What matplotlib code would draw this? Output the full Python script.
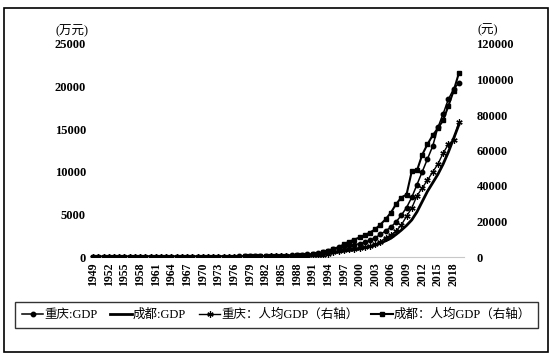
import numpy as np
import matplotlib
matplotlib.use("Agg")
import matplotlib.pyplot as plt
from matplotlib.patches import Rectangle

plt.rcParams['font.family'] = ['Liberation Serif', 'Noto Sans CJK SC', 'DejaVu Sans']

years = list(range(1949, 2020))

# 重庆:GDP (left axis)
cq_gdp = [13, 15, 18, 22, 25, 27, 29, 32, 34, 41,
          46, 46, 34, 31, 33, 36, 40, 44, 41, 38,
          42, 48, 51, 52, 55, 54, 58, 56, 62, 67,
          75, 83, 90, 100, 112, 130, 151, 170, 195, 240,
          275, 300, 350, 430, 560, 760, 980, 1150, 1300, 1380,
          1450, 1560, 1720, 1950, 2250, 2650, 3070, 3500, 4120, 4900,
          5800, 7000, 8500, 10000, 11500, 13000, 15200, 16800, 18500, 19700,
          20400]

# 成都:GDP (left axis)
cd_gdp = [5, 6, 7, 8, 9, 10, 10, 12, 13, 16,
          18, 18, 13, 12, 13, 14, 15, 17, 15, 14,
          16, 19, 21, 22, 23, 23, 26, 26, 30, 36,
          40, 45, 49, 55, 62, 73, 86, 95, 110, 135,
          150, 155, 180, 220, 290, 390, 480, 580, 680, 770,
          850, 950, 1070, 1200, 1380, 1620, 1900, 2200, 2650, 3150,
          3700, 4350, 5300, 6500, 7700, 8700, 9700, 10900, 12300, 13900,
          15500]

# 重庆：人均GDP (right axis)
cq_pc = [55, 62, 72, 85, 95, 100, 105, 115, 120, 140,
         155, 155, 118, 108, 112, 120, 130, 140, 128, 118,
         126, 140, 146, 146, 152, 148, 157, 150, 165, 180,
         205, 230, 250, 275, 305, 350, 410, 450, 510, 620,
         700, 760, 870, 1050, 1360, 1830, 2700, 3300, 3900, 4350,
         4700, 5200, 5650, 6350, 7200, 8540, 10980, 12320, 14660, 18030,
         22920, 27600, 34500, 38910, 43220, 47850, 52320, 58500, 63440, 65930,
         75830]

# 成都：人均GDP (right axis)
cd_pc = [70, 78, 88, 100, 110, 118, 122, 135, 142, 170,
         185, 182, 135, 125, 132, 140, 152, 165, 150, 138,
         148, 168, 178, 182, 188, 185, 205, 200, 225, 290,
         320, 350, 380, 420, 470, 540, 640, 720, 830, 1000,
         1150, 1300, 1550, 1950, 2600, 3500, 4300, 5200, 7300, 8600,
         9800, 11000, 12300, 13800, 15600, 18300, 21300, 25000, 29800, 33500,
         35200, 48300, 48750, 57600, 63500, 68500, 72500, 77000, 85000, 93500,
         103400]

xticks = list(range(1949, 2020, 3))

fig = plt.figure(figsize=(5.56, 3.57), dpi=100)
ax = fig.add_axes([90/556, 1 - 257/357, (464-90)/556, (257-44)/357])
ax2 = ax.twinx()

l1, = ax.plot(years, cq_gdp, color='black', lw=1.1, marker='o', ms=3.2)
l2, = ax.plot(years, cd_gdp, color='black', lw=2.0)
l3, = ax2.plot(years, cq_pc, color='black', lw=1.0, marker=(6, 2, 0), ms=4.5, mew=0.9)
l4, = ax2.plot(years, cd_pc, color='black', lw=1.5, marker='s', ms=3.2)

ax.set_xlim(1948.4, 2020)
ax.set_ylim(0, 25000)
ax2.set_ylim(0, 120000)
ax.set_yticks(range(0, 25001, 5000))
ax2.set_yticks(range(0, 120001, 20000))
ax.set_xticks(xticks)
ax.set_xticklabels([str(y) for y in xticks], rotation=90, fontsize=8.5, fontweight='bold')

for a in (ax, ax2):
    for s in a.spines.values():
        s.set_visible(False)
    a.tick_params(length=0)
ax.spines['bottom'].set_visible(True)
ax.spines['bottom'].set_color('#c8c8c8')
ax.tick_params(axis='y', labelsize=9, pad=3)
ax2.tick_params(axis='y', labelsize=9, pad=9)
ax.tick_params(axis='x', pad=4)
for lab in ax.get_yticklabels() + ax2.get_yticklabels():
    lab.set_fontweight('bold')

fig.text(55/556, 1 - 31/357, '(万元)', fontsize=9, va='center', ha='left')
fig.text(477/556, 1 - 30/357, '(元)', fontsize=9, va='center', ha='left')

leg = fig.legend([l1, l2, l3, l4],
                 ['重庆:GDP', '成都:GDP', '重庆：人均GDP（右轴）', '成都：人均GDP（右轴）'],
                 loc='lower left', bbox_to_anchor=(15/556, 1 - 328/357, 523/556, 31/357),
                 mode='expand', ncol=4, fontsize=9, frameon=True, fancybox=False,
                 handlelength=1.7, handletextpad=0.1, columnspacing=1.0,
                 borderaxespad=0, borderpad=0.55)
leg.get_frame().set_edgecolor('black')
leg.get_frame().set_linewidth(1.0)

fig.patches.append(Rectangle((4/556, 1 - 352/357), 544/556, 344/357, transform=fig.transFigure,
                             fill=False, edgecolor='black', lw=1.2))

fig.savefig('out.png', dpi=100)
